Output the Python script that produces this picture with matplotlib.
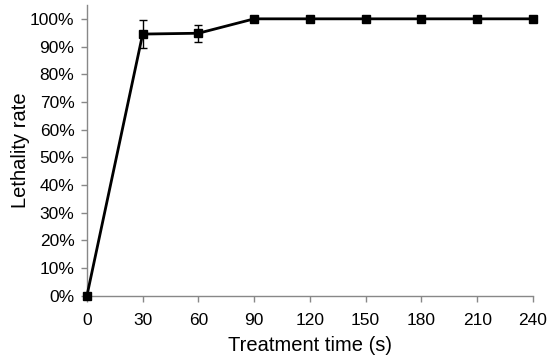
import matplotlib
matplotlib.use("Agg")
import matplotlib.pyplot as plt
from matplotlib.ticker import PercentFormatter

time_s = [0, 30, 60, 90, 120, 150, 180, 210, 240]
lethality = [0.0, 0.945, 0.948, 1.0, 1.0, 1.0, 1.0, 1.0, 1.0]
err = [0.0, 0.05, 0.03, 0.0, 0.0, 0.0, 0.0, 0.0, 0.0]

plt.rcParams['font.family'] = ['Liberation Sans', 'DejaVu Sans']

fig = plt.figure(figsize=(5.5, 3.56), dpi=100)
ax = fig.add_axes([0.158, 0.169, 0.811, 0.817])
ax.errorbar(time_s, lethality, yerr=err, color='black', lw=2, marker='s', ms=6,
            capsize=3, elinewidth=1, capthick=1, clip_on=False, zorder=3)
ax.set_xlim(0, 240)
ax.set_ylim(0, 1.05)
ax.set_xticks(time_s)
ax.set_yticks([i / 10 for i in range(11)])
ax.yaxis.set_major_formatter(PercentFormatter(1.0, decimals=0))
for s in ['top', 'right']:
    ax.spines[s].set_visible(False)
for s in ['left', 'bottom']:
    ax.spines[s].set_color('#888888')
    ax.spines[s].set_linewidth(1)
ax.tick_params(axis='both', colors='#888888', labelcolor='black', labelsize=12.5, length=4, width=1)
ax.tick_params(axis='x', pad=8)
ax.tick_params(axis='y', pad=5)
ax.set_xlabel('Treatment time (s)', fontsize=14.5, labelpad=6)
ax.set_ylabel('Lethality rate', fontsize=14.5, labelpad=0)
fig.savefig('out.png', dpi=100)
